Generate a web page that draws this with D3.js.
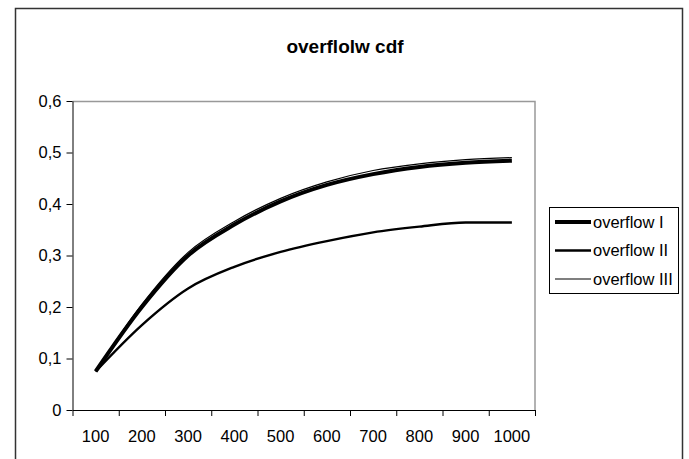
<!DOCTYPE html>
<html>
<head>
<meta charset="utf-8">
<script src="https://cdn.jsdelivr.net/npm/d3@7"></script>
<style>
  body { margin: 0; background: #fff; }
  text { font-family: "Liberation Sans", Arial, sans-serif; }
</style>
</head>
<body>
<div class="chart"></div>
<script>
// Chart data
const categories = ["100", "200", "300", "400", "500", "600", "700", "800", "900", "1000"];
const overflowI   = [0.075, 0.200, 0.300, 0.360, 0.405, 0.437, 0.458, 0.472, 0.480, 0.484];
const overflowII  = [0.075, 0.165, 0.236, 0.278, 0.307, 0.328, 0.345, 0.356, 0.364, 0.364];
const overflowIII = [0.075, 0.205, 0.306, 0.366, 0.411, 0.443, 0.465, 0.478, 0.486, 0.490];
const yTicks = [0, 0.1, 0.2, 0.3, 0.4, 0.5, 0.6];

const series = [
    { name: "overflow I", values: overflowI, width: 4 },
    { name: "overflow II", values: overflowII, width: 2.4 },
    { name: "overflow III", values: overflowIII, width: 1.2 }
];

const W = 689, H = 459;
const margin = { top: 101, left: 72.5 };
const width = 462.5;
const height = 309;
const fontSize = "16.5px";

const svg = d3.select(".chart")
    .append("svg")
    .attr("width", W)
    .attr("height", H);

// outer chart border (bottom edge is cut off)
svg.append("path")
    .attr("d", `M15.5,${H + 5} V8.5 H682.5 V${H + 5}`)
    .attr("fill", "none")
    .attr("stroke", "#333")
    .attr("stroke-width", 1.5);

// title
svg.append("text")
    .attr("x", 345)
    .attr("y", 53)
    .attr("text-anchor", "middle")
    .style("font-size", "19px")
    .style("font-weight", "bold")
    .text("overflolw cdf");

const g = svg.append("g")
    .attr("transform", `translate(${margin.left}, ${margin.top})`);

// scales
const x = d3.scaleBand()
    .domain(categories)
    .range([0, width]);

const xEdge = d3.scaleLinear()
    .domain([0, categories.length])
    .range([0, width]);

const y = d3.scaleLinear()
    .domain([0, 0.6])
    .range([height, 0]);

// plot area border, top and right in grey
g.append("path")
    .attr("d", `M0,0.5 H${width} V${height}`)
    .attr("fill", "none")
    .attr("stroke", "#999")
    .attr("stroke-width", 1.5);

// x axis: ticks on the category edges, labels in the middle
const xTicks = g.append("g")
    .attr("transform", `translate(0, ${height})`)
    .call(d3.axisBottom(xEdge).tickValues(d3.range(categories.length + 1)).tickFormat("").tickSize(6).tickSizeOuter(0));
xTicks.select(".domain").attr("stroke", "#000");

const xLabels = g.append("g")
    .attr("transform", `translate(0, ${height})`)
    .call(d3.axisBottom(x).tickSize(0).tickPadding(20));
xLabels.select(".domain").remove();
xLabels.selectAll("text")
    .style("font-size", fontSize)
    .attr("fill", "#000");

// y axis
const yAxis = g.append("g")
    .call(d3.axisLeft(y)
        .tickValues(yTicks)
        .tickSize(6)
        .tickSizeOuter(0)
        .tickPadding(5)
        .tickFormat(d => d === 0 ? "0" : d3.format(".1f")(d).replace(".", ",")));
yAxis.selectAll("text")
    .style("font-size", fontSize)
    .attr("fill", "#000");

// smoothed lines
const line = d3.line()
    .x((d, i) => x(categories[i]) + x.bandwidth() / 2)
    .y(d => y(d))
    .curve(d3.curveMonotoneX);

g.selectAll(".series")
    .data(series)
    .enter()
    .append("path")
        .attr("class", "series")
        .attr("d", d => line(d.values))
        .attr("fill", "none")
        .attr("stroke", "#000")
        .attr("stroke-width", d => d.width)
        .attr("stroke-linejoin", "round");

// legend
const legend = svg.append("g")
    .attr("transform", "translate(549, 207)");

legend.append("rect")
    .attr("x", 0.5)
    .attr("y", 0.5)
    .attr("width", 129)
    .attr("height", 86)
    .attr("fill", "#fff")
    .attr("stroke", "#000");

const item = legend.selectAll(".item")
    .data(series)
    .enter()
    .append("g")
        .attr("class", "item")
        .attr("transform", (d, i) => `translate(0, ${15 + i * 28.5})`);

item.append("line")
    .attr("x1", 6)
    .attr("x2", 42)
    .attr("stroke", "#000")
    .attr("stroke-width", d => d.width);

item.append("text")
    .attr("x", 44)
    .attr("dy", "0.36em")
    .style("font-size", fontSize)
    .text(d => d.name);
</script>
</body>
</html>
